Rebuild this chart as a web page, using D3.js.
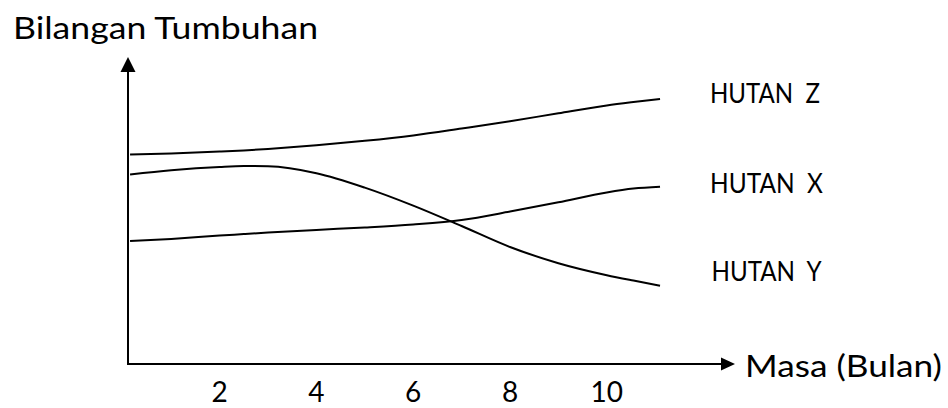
<!DOCTYPE html>
<html>
<head>
<meta charset="utf-8">
<script src="https://cdn.jsdelivr.net/npm/d3@7"></script>
<style>
  html, body { margin: 0; padding: 0; background: #fff; }
  svg { display: block; }
  text { font-family: Lato, "Open Sans", sans-serif; fill: #000; }
</style>
</head>
<body>
<svg id="chart" width="948" height="408"></svg>
<script>
// ---- data ----
const months   = [0.15, 1, 2, 2.5, 3, 4, 5, 6, 7, 8, 9, 10, 10.55, 11.1];
const hutanZ   = [69.8, 70.2, 70.8, 71.2, 71.7, 72.9, 74.4, 76.2, 78.5, 80.9, 83.6, 86.2, 87.3, 88.3];
const hutanX   = [41.0, 41.7, 42.8, 43.3, 43.8, 44.7, 45.5, 46.5, 48.0, 50.8, 53.9, 57.2, 58.5, 59.1];
const hutanY   = [63.2, 64.6, 65.7, 66.0, 65.9, 63.6, 58.8, 52.8, 46.0, 39.0, 33.6, 29.6, 27.8, 26.1];
const tickMonths = [2, 4, 6, 8, 10];
const tickLabels = ["2", "4", "6", "8", "10"];
const seriesNames = ["HUTAN  Z", "HUTAN  X", "HUTAN  Y"];
const yTitle = "Bilangan Tumbuhan";
const xTitle = "Masa (Bulan)";

// ---- scales ----
const x = d3.scaleLinear().domain([0, 10]).range([122.8, 606.8]);
const y = d3.scaleLinear().domain([0, 100]).range([364, 64]);

const svg = d3.select("#chart");
const originX = 128, originY = y(0);

// axes
svg.append("line").attr("x1", originX).attr("y1", originY).attr("x2", originX).attr("y2", 71)
  .attr("stroke", "#000").attr("stroke-width", 2);
svg.append("path").attr("d", `M${originX - 7.5},72 L${originX},57 L${originX + 7.5},72 Z`).attr("fill", "#000");
svg.append("line").attr("x1", originX - 1).attr("y1", originY).attr("x2", 722).attr("y2", originY)
  .attr("stroke", "#000").attr("stroke-width", 2);
svg.append("path").attr("d", `M721,${originY - 6.5} L735,${originY} L721,${originY + 6.5} Z`).attr("fill", "#000");

// tick labels
svg.selectAll("text.tick").data(tickMonths).join("text")
  .attr("class", "tick")
  .attr("x", d => x(d))
  .attr("y", 402)
  .attr("text-anchor", "middle")
  .attr("font-size", 28)
  .text((d, i) => tickLabels[i]);

// titles
svg.append("text").attr("x", 13).attr("y", 38.5).attr("font-size", 30)
  .attr("textLength", 305).attr("lengthAdjust", "spacingAndGlyphs").text(yTitle);
svg.append("text").attr("x", 745).attr("y", 376.5).attr("font-size", 30)
  .attr("textLength", 197).attr("lengthAdjust", "spacingAndGlyphs").text(xTitle);

// lines
const series = [hutanZ, hutanX, hutanY];
const line = d3.line()
  .x((d, i) => x(months[i]))
  .y(d => y(d))
  .curve(d3.curveMonotoneX);
svg.selectAll("path.series").data(series).join("path")
  .attr("class", "series")
  .attr("d", d => line(d))
  .attr("fill", "none")
  .attr("stroke", "#000")
  .attr("stroke-width", 2);

// series labels
const labelBaselines = [103, 193, 281];
const labelX = [710, 710, 711.5];
const labelLen = [110, 113, 110];
svg.selectAll("text.slabel").data(seriesNames).join("text")
  .attr("class", "slabel")
  .attr("x", (d, i) => labelX[i])
  .attr("y", (d, i) => labelBaselines[i])
  .attr("font-size", 26)
  .style("white-space", "pre")
  .attr("textLength", (d, i) => labelLen[i])
  .attr("lengthAdjust", "spacingAndGlyphs")
  .text(d => d);
</script>
</body>
</html>
